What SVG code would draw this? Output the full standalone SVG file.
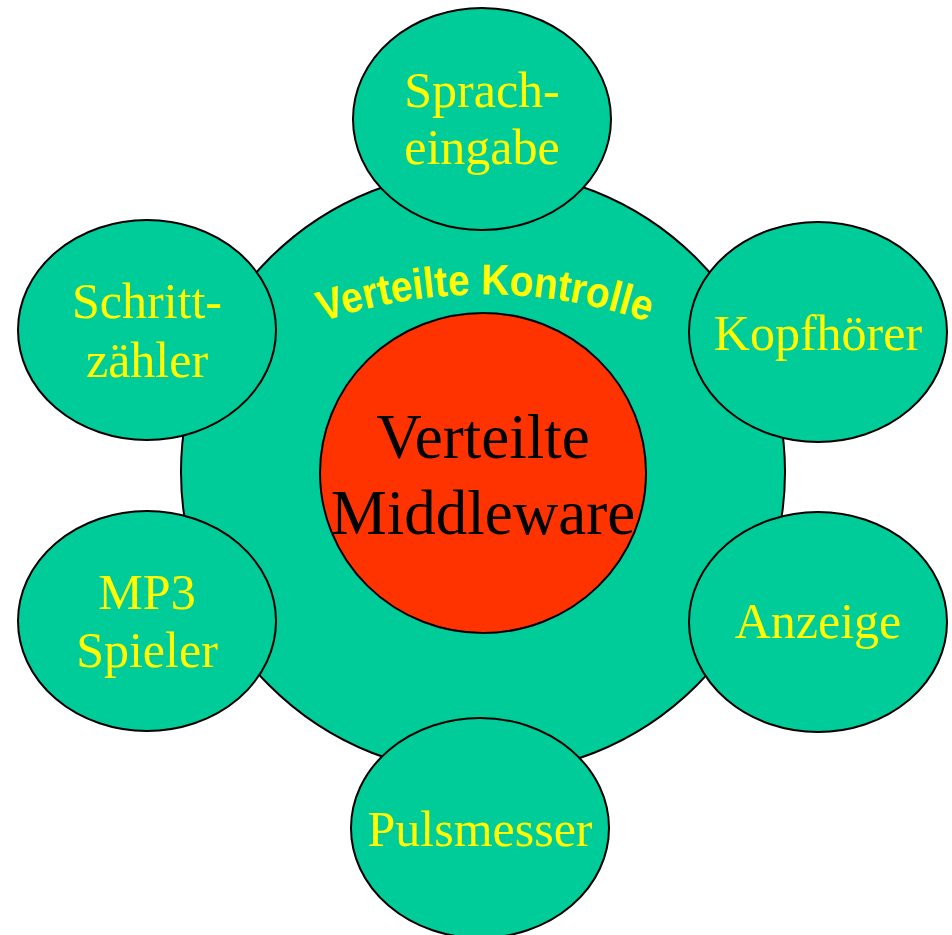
<svg xmlns="http://www.w3.org/2000/svg" width="952" height="935" viewBox="0 0 952 935">
  <style>
    .node { fill: #00CC99; stroke: #000; stroke-width: 2; }
    .core { fill: #FF3300; stroke: #000; stroke-width: 2; }
    .lbl { font-family: "Liberation Serif", "Times New Roman", serif; font-size: 50px; fill: #FFFF00; text-anchor: middle; }
    .core-lbl { font-family: "Liberation Serif", "Times New Roman", serif; font-size: 63px; fill: #000; text-anchor: middle; }
    .arc-lbl { font-family: "Liberation Sans", Arial, sans-serif; font-weight: bold; font-size: 43px; fill: #FFFF00; }
  </style>
  <defs>
    <!-- baseline arc for the ring title -->
    <path id="arcPath" d="M 300 330 A 500 500 0 0 1 670 330"/>
  </defs>
  <rect width="952" height="935" fill="#fff"/>

  <!-- outer ring: distributed control layer -->
  <g id="control">
    <circle class="node" cx="483" cy="472" r="302"/>
    <text class="arc-lbl"><textPath href="#arcPath" startOffset="50%" text-anchor="middle" textLength="332" lengthAdjust="spacingAndGlyphs">Verteilte Kontrolle</textPath></text>
  </g>

  <!-- core -->
  <g id="middleware">
    <ellipse class="core" cx="483" cy="473" rx="163" ry="160"/>
    <text class="core-lbl" x="483" y="458">Verteilte</text>
    <text class="core-lbl" x="483" y="534">Middleware</text>
  </g>

  <!-- peripheral devices -->
  <g id="spracheingabe">
    <ellipse class="node" cx="482" cy="119" rx="129" ry="111"/>
    <text class="lbl" x="482" y="107">Sprach-</text>
    <text class="lbl" x="482" y="164">eingabe</text>
  </g>

  <g id="schrittzaehler">
    <ellipse class="node" cx="147" cy="330" rx="129" ry="110"/>
    <text class="lbl" x="147" y="318">Schritt-</text>
    <text class="lbl" x="147" y="377">zähler</text>
  </g>

  <g id="kopfhoerer">
    <ellipse class="node" cx="818" cy="332" rx="129" ry="110"/>
    <text class="lbl" x="818" y="350">Kopfhörer</text>
  </g>

  <g id="mp3spieler">
    <ellipse class="node" cx="147" cy="621" rx="129" ry="110"/>
    <text class="lbl" x="147" y="609">MP3</text>
    <text class="lbl" x="147" y="667">Spieler</text>
  </g>

  <g id="anzeige">
    <ellipse class="node" cx="818" cy="622" rx="129" ry="110"/>
    <text class="lbl" x="818" y="638">Anzeige</text>
  </g>

  <g id="pulsmesser">
    <ellipse class="node" cx="480" cy="828" rx="129" ry="110"/>
    <text class="lbl" x="480" y="846">Pulsmesser</text>
  </g>
</svg>
